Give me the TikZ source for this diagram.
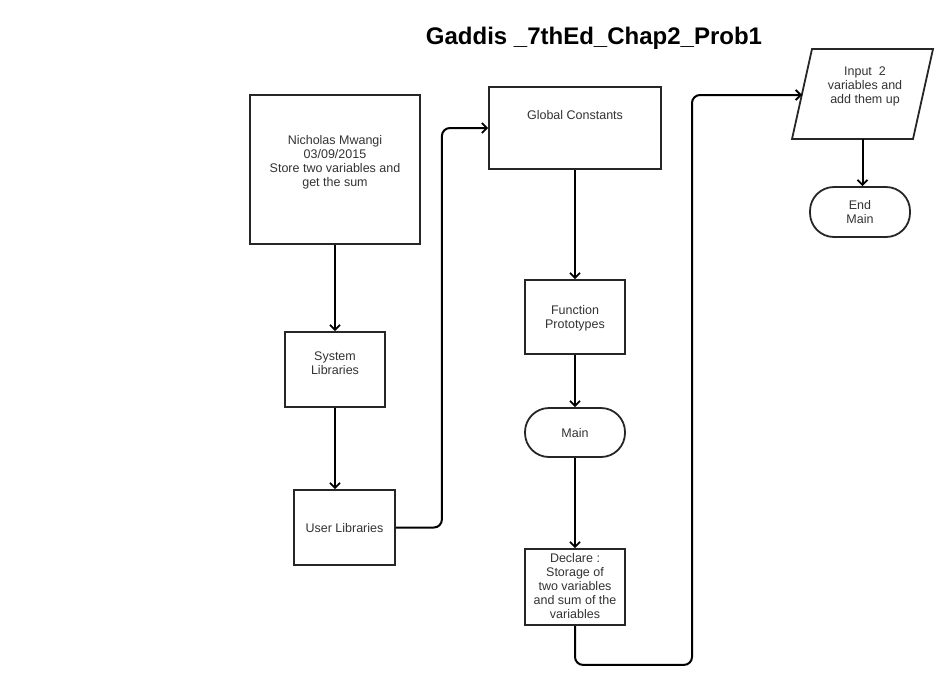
\documentclass[tikz,border=0pt]{standalone}
\usepackage{fontspec}
\setmainfont{Liberation Sans}
\usetikzlibrary{arrows.meta}
\begin{document}
\begin{tikzpicture}[x=1pt,y=-1pt,
  box/.style={draw=black!85, line width=1.8pt, fill=white, inner sep=0pt},
  pill/.style={box, rounded corners=24pt},
  txt/.style={font=\fontsize{12.5}{14}\selectfont, text=black!80, align=center, inner sep=0pt},
  flow/.style={draw=black, line width=2pt, rounded corners=8pt,
    -{Straight Barb[length=5pt,width=10pt,line width=1.8pt]}}
]
\useasboundingbox[fill=white] (0,0) rectangle (941,689);

% title
\node[font=\fontsize{24}{28}\bfseries\selectfont, inner sep=0pt] (title) at (594,38) {Gaddis \_7thEd\_Chap2\_Prob1};

% left column
\node[box, minimum width=170pt, minimum height=149pt] (head) at (335,169.5) {};
\node[txt] (headtxt) at (335,162) {Nicholas Mwangi\\03/09/2015\\Store two variables and\\get the sum};

\node[box, minimum width=100pt, minimum height=75pt] (sys) at (335,369.5) {};
\node[txt] (systxt) at (335,363) {System\\Libraries};

\node[box, minimum width=101pt, minimum height=75pt] (user) at (344.5,527.5) {};
\node[txt] (usertxt) at (344.5,528) {User Libraries};

% middle column
\node[box, minimum width=172pt, minimum height=82pt] (glob) at (575,128) {};
\node[txt] (globtxt) at (575,115) {Global Constants};

\node[box, minimum width=100pt, minimum height=74pt] (proto) at (575,317) {};
\node[txt] (prototxt) at (575,318) {Function\\Prototypes};

\node[pill, minimum width=100pt, minimum height=49pt] (main) at (575,432.5) {};
\node[txt] (maintxt) at (575,433) {Main};

\node[box, minimum width=100pt, minimum height=76pt] (decl) at (575,587) {};
\node[txt] (decltxt) at (575,586.5) {Declare :\\Storage of\\two variables\\and sum of the\\variables};

% right column
\draw[box] (812,49) coordinate (pa) -- (933,49) coordinate (pb)
  -- (913,139) coordinate (pc) -- (792,139) coordinate (pd) -- cycle;
\coordinate (inpL) at (802,95);
\coordinate (inpB) at (862.5,139);
\node[txt] (inptxt) at (865,86) {Input\ \ 2\\variables and\\add them up};

\node[pill, minimum width=100pt, minimum height=50pt] (endm) at (860,212) {};
\node[txt] (endtxt) at (860,212) {End\\Main};

% connectors
\draw[flow] (head.south) -- (sys.north);
\draw[flow] (sys.south) -- (sys.south |- user.north);
\draw[flow] (user.east) -- ++(46,0) |- (glob.west);
\draw[flow] (glob.south) -- (proto.north);
\draw[flow] (proto.south) -- (main.north);
\draw[flow] (main.south) -- (decl.north);
\draw[flow] (decl.south) -- ++(0,39) -| (692,200) |- (inpL);
\draw[flow] (inpB) -- (inpB |- endm.north);
\end{tikzpicture}
\end{document}
